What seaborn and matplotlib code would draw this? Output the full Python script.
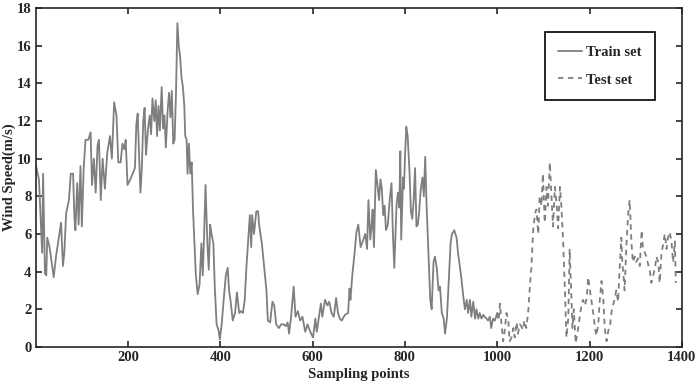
import pandas as pd
import matplotlib
matplotlib.use('Agg')
import matplotlib.pyplot as plt
import seaborn as sns

# sampling point index / wind speed (m/s)
train_idx = [0, 7, 14, 16, 20, 23, 25, 30, 34, 39, 44, 50, 55, 59, 62, 66, 72, 76, 81, 84,
             86, 90, 93, 97, 100, 104, 108, 114, 119, 122, 126, 130, 134, 137, 141, 145, 150, 155, 161, 165,
             170, 175, 179, 184, 188, 192, 195, 199, 205, 210, 215, 218, 221, 224, 227, 230, 233, 236, 239, 243,
             247, 250, 253, 257, 260, 263, 266, 269, 273, 276, 279, 282, 286, 289, 292, 295, 298, 301, 304, 307,
             310, 313, 316, 319, 322, 324, 327, 329, 332, 335, 338, 341, 344, 347, 351, 355, 359, 362, 365, 368,
             372, 375, 378, 381, 385, 388, 392, 396, 399, 403, 408, 412, 416, 419, 422, 427, 432, 436, 441, 445,
             449, 453, 456, 460, 464, 467, 469, 473, 478, 482, 484, 490, 494, 500, 503, 508, 513, 517, 521, 527,
             532, 537, 542, 546, 549, 553, 559, 563, 568, 573, 578, 584, 589, 595, 601, 606, 609, 615, 618, 621,
             627, 632, 636, 641, 646, 651, 655, 659, 663, 670, 677, 680, 682, 686, 691, 695, 699, 704, 710, 714,
             718, 721, 725, 728, 730, 733, 737, 741, 744, 747, 750, 753, 756, 759, 763, 767, 771, 774, 777, 782,
             785, 788, 790, 792, 796, 798, 800, 803, 806, 810, 813, 816, 819, 822, 825, 828, 831, 834, 838, 841,
             844, 847, 851, 855, 858, 862, 865, 869, 873, 876, 880, 884, 887, 891, 895, 899, 902, 907, 912, 915,
             919, 923, 926, 930, 934, 937, 941, 944, 948, 952, 955, 959, 962, 966, 970, 973, 977, 980, 984, 987,
             991, 995, 1000]
train_speed = [9.7, 8.9, 5.0, 9.2, 3.9, 3.8, 5.8, 5.3, 4.6, 3.7, 4.8, 5.8, 6.6, 4.3, 5.0, 7.1, 7.8, 9.2, 9.2, 6.8,
               6.2, 8.7, 6.5, 9.6, 6.4, 9.5, 11.0, 11.0, 11.4, 8.6, 10.0, 8.2, 10.7, 11.0, 7.8, 10.0, 8.4, 10.3, 11.2, 10.0,
               13.0, 12.3, 9.8, 9.8, 10.8, 10.5, 11.0, 8.6, 8.9, 9.2, 9.5, 11.8, 12.4, 10.2, 8.2, 9.5, 12.0, 12.7, 10.2, 11.5,
               12.3, 11.3, 13.2, 12.0, 13.1, 11.2, 12.8, 11.5, 13.8, 11.6, 12.3, 10.6, 12.6, 13.5, 12.2, 13.6, 10.8, 11.0, 13.5, 17.2,
               16.0, 15.4, 14.3, 13.8, 12.8, 11.2, 11.0, 9.2, 10.8, 9.2, 9.8, 7.2, 5.5, 3.8, 2.8, 3.3, 5.5, 3.8, 6.0, 8.6,
               5.5, 4.1, 6.5, 6.0, 5.5, 3.2, 1.2, 0.9, 0.4, 1.2, 2.7, 3.8, 4.2, 3.0, 2.5, 1.4, 1.8, 2.9, 1.8, 1.9,
               1.8, 2.5, 4.0, 5.5, 7.0, 5.3, 7.0, 6.0, 7.2, 7.2, 6.5, 5.5, 4.5, 3.0, 1.4, 1.3, 2.4, 2.2, 1.2, 1.0,
               1.2, 1.2, 1.1, 1.3, 0.7, 1.5, 3.2, 1.6, 1.9, 1.4, 1.6, 0.8, 1.2, 0.8, 0.5, 1.5, 0.8, 1.8, 2.3, 1.6,
               2.5, 2.2, 2.4, 1.8, 1.6, 2.6, 1.8, 1.5, 1.4, 1.7, 1.8, 3.1, 2.5, 3.8, 5.0, 6.1, 6.5, 5.3, 5.7, 6.0,
               5.2, 7.8, 5.7, 6.5, 7.3, 5.3, 9.4, 8.5, 7.8, 8.9, 8.4, 7.0, 7.5, 6.2, 6.5, 7.8, 8.7, 6.0, 4.2, 7.6,
               8.2, 7.4, 10.4, 5.7, 9.0, 8.4, 10.0, 11.7, 11.2, 9.3, 7.2, 6.8, 7.8, 9.5, 6.4, 6.5, 7.2, 8.3, 9.0, 8.0,
               10.1, 7.5, 5.0, 2.5, 2.0, 4.5, 4.8, 4.2, 3.0, 3.2, 1.8, 1.5, 0.7, 1.5, 3.5, 5.5, 6.0, 6.2, 5.8, 5.0,
               4.3, 3.5, 2.8, 2.0, 2.5, 1.8, 2.5, 1.6, 2.4, 1.5, 2.0, 1.5, 1.8, 1.5, 1.7, 1.6, 1.5, 1.4, 1.6, 1.0,
               1.5, 1.4, 1.8]

test_idx = [1000, 1003, 1006, 1009, 1013, 1016, 1020, 1024, 1027, 1031, 1035, 1038, 1042, 1045, 1049, 1052, 1056, 1059, 1063, 1067,
            1071, 1074, 1078, 1082, 1085, 1089, 1092, 1096, 1099, 1103, 1107, 1110, 1114, 1118, 1121, 1125, 1129, 1132, 1136, 1139,
            1143, 1146, 1150, 1154, 1157, 1161, 1163, 1166, 1170, 1175, 1179, 1183, 1186, 1190, 1194, 1197, 1201, 1204, 1208, 1212,
            1215, 1219, 1222, 1226, 1230, 1233, 1237, 1241, 1244, 1248, 1251, 1255, 1258, 1262, 1265, 1269, 1271, 1274, 1276, 1280,
            1284, 1287, 1291, 1294, 1298, 1301, 1305, 1309, 1313, 1316, 1320, 1323, 1327, 1331, 1334, 1338, 1342, 1345, 1349, 1352,
            1356, 1360, 1363, 1367, 1370, 1374, 1378, 1381, 1385, 1387]
test_speed = [1.8, 1.4, 2.3, 1.3, 0.3, 0.8, 1.8, 1.4, 0.3, 0.5, 1.0, 0.5, 1.3, 0.7, 1.2, 1.1, 0.9, 1.4, 1.0, 1.8,
              3.3, 4.2, 6.2, 7.1, 7.3, 6.0, 8.0, 7.5, 9.2, 6.6, 8.5, 7.5, 9.8, 7.8, 6.4, 8.5, 7.5, 6.3, 8.5, 7.5,
              5.5, 3.5, 0.5, 1.5, 5.2, 2.5, 1.0, 2.0, 0.2, 0.9, 1.6, 2.3, 2.5, 2.2, 2.6, 3.7, 3.0, 2.5, 1.8, 1.0,
              0.6, 1.2, 2.4, 3.5, 2.5, 1.0, 0.3, 0.9, 1.0, 1.9, 2.2, 2.6, 3.0, 2.4, 4.0, 5.8, 4.5, 3.7, 3.0, 5.4,
              7.1, 7.8, 5.5, 4.5, 4.8, 4.5, 4.7, 4.3, 6.2, 5.2, 5.0, 4.8, 4.4, 4.0, 3.4, 3.8, 4.2, 4.8, 4.5, 3.4,
              5.0, 5.5, 6.0, 5.2, 5.8, 6.1, 5.5, 4.5, 5.6, 3.4]

x_ticks = [200, 400, 600, 800, 1000, 1200, 1400]
y_ticks = list(range(0, 19, 2))

sns.set_style('ticks')
plt.rcParams['font.family'] = ['Liberation Serif', 'DejaVu Serif']
plt.rcParams['font.weight'] = 'bold'
plt.rcParams['axes.labelweight'] = 'bold'

train = pd.DataFrame({'idx': train_idx, 'speed': train_speed})
test = pd.DataFrame({'idx': test_idx, 'speed': test_speed})

fig = plt.figure(figsize=(7, 3.85), dpi=100)
ax = fig.add_axes([0.051, 0.099, 0.923, 0.88])

sns.lineplot(data=train, x='idx', y='speed', ax=ax, color='#7f7f7f', lw=1.3,
             label='Train set', estimator=None)
sns.lineplot(data=test, x='idx', y='speed', ax=ax, color='#7f7f7f', lw=1.3,
             dashes=False, label='Test set', estimator=None)
ax.lines[1].set_linestyle((0, (3, 2.5)))

ax.set_xlim(0, 1400)
ax.set_ylim(0, 18)
ax.set_xticks(x_ticks)
ax.set_yticks(y_ticks)
ax.tick_params(direction='in', top=True, right=True, labelsize=10.5,
               length=4, width=1.2, pad=3)
for lab in ax.get_xticklabels() + ax.get_yticklabels():
    lab.set_fontweight('bold')
for s in ax.spines.values():
    s.set_linewidth(1.2)
    s.set_visible(True)

ax.set_xlabel('Sampling points', fontsize=10.5)
ax.set_ylabel('Wind Speed(m/s)', fontsize=10.5)
ax.xaxis.set_label_coords(0.5, -0.062)
ax.yaxis.set_label_coords(-0.031, 0.5)

leg = ax.legend(loc='upper right', bbox_to_anchor=(0.958, 0.928), fancybox=False,
                edgecolor='black', framealpha=1, handlelength=1.6, handletextpad=0.3,
                labelspacing=1.0, borderpad=0.9, borderaxespad=0,
                prop={'weight': 'bold', 'size': 10.5})
leg.get_frame().set_linewidth(1.2)
leg.legend_handles[1].set_linestyle((0, (3, 2.5)))

fig.savefig('out.png', dpi=100)
